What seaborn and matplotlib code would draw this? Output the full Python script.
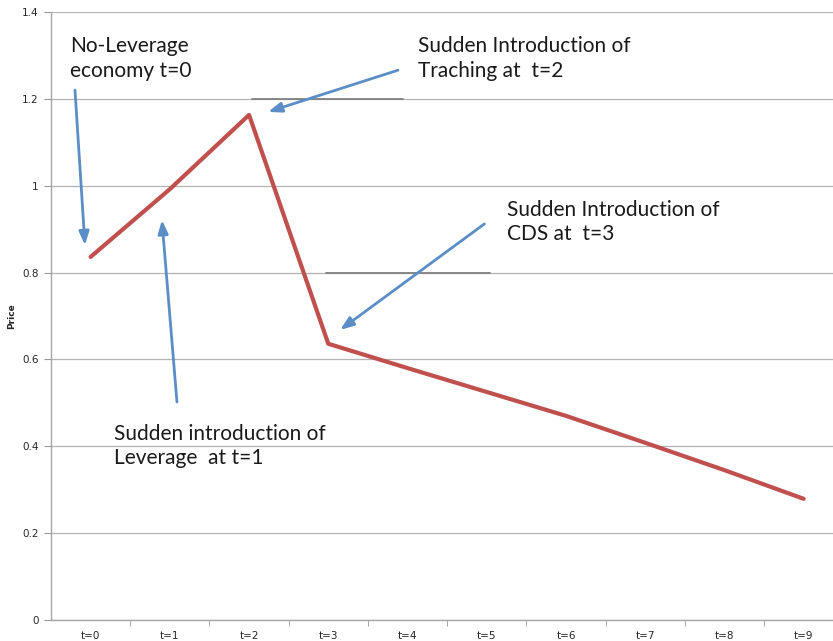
import matplotlib
matplotlib.use("Agg")
import matplotlib.pyplot as plt
import seaborn as sns
import pandas as pd
import numpy as np

periods = ["t=0", "t=1", "t=2", "t=3", "t=4", "t=5", "t=6", "t=7", "t=8", "t=9"]
prices = [0.836, 0.992, 1.163, 0.636, 0.58, 0.525, 0.47, 0.408, 0.345, 0.279]
y_ticks = [0, 0.2, 0.4, 0.6, 0.8, 1.0, 1.2, 1.4]
y_tick_labels = ["0", "0.2", "0.4", "0.6", "0.8", "1", "1.2", "1.4"]

# reference segments (data units): (x0, x1, y)
ref_lines = [(2.04, 3.94, 1.2), (2.97, 5.04, 0.8)]

# annotations: text, text position (x, y), arrow tail (x, y), arrow head (x, y)
notes = [
    ("No-Leverage\neconomy t=0", (-0.26, 1.345), (-0.197, 1.22), (-0.071, 0.863)),
    ("Sudden introduction of\nLeverage  at t=1", (0.295, 0.452), (1.09, 0.502), (0.90, 0.921)),
    ("Sudden Introduction of\nTraching at  t=2", (4.13, 1.345), (3.88, 1.266), (2.24, 1.17)),
    ("Sudden Introduction of\nCDS at  t=3", (5.26, 0.968), (4.97, 0.912), (3.15, 0.668)),
]

df = pd.DataFrame({"pos": np.arange(len(periods)), "price": prices})

sns.set_style("white")
plt.rcParams["font.family"] = ["Lato", "DejaVu Sans"]

fig = plt.figure(figsize=(8.33, 6.41), dpi=100)
ax = fig.add_axes([0.0612, 0.0328, 0.9388, 0.9485])

for x0, x1, y in ref_lines:
    ax.plot([x0, x1], [y, y], color="#808080", linewidth=1.3, zorder=2)

sns.lineplot(data=df, x="pos", y="price", color="#c0504d", linewidth=3.0, ax=ax, zorder=3)

ax.set_yticks(y_ticks)
ax.set_yticklabels(y_tick_labels, fontsize=7.5, family="DejaVu Sans")
ax.yaxis.grid(True, color="#b3b3b3", linewidth=0.9)
ax.set_axisbelow(True)

ax.set_xticks(np.arange(len(periods)))
ax.set_xticklabels(periods, fontsize=7.5, family="DejaVu Sans")
ax.set_xticks(np.arange(len(periods)) + 0.5, minor=True)
ax.tick_params(axis="x", which="major", length=0, pad=8)
ax.tick_params(axis="x", which="minor", length=4, color="#999999", direction="out", bottom=True)
ax.tick_params(axis="y", length=5, color="#999999", direction="out", left=True, pad=4)

ax.set_ylim(0, 1.4)
ax.set_xlim(-0.5, 9.37)

for side in ["top", "right"]:
    ax.spines[side].set_visible(False)
for side in ["left", "bottom"]:
    ax.spines[side].set_color("#a6a6a6")
    ax.spines[side].set_linewidth(1.0)

ax.set_xlabel("")
ax.set_ylabel("Price", fontsize=6.5, fontweight="bold", labelpad=4, family="DejaVu Sans")

for text, tpos, tail, head in notes:
    ax.text(tpos[0], tpos[1], text, fontsize=15, color="#1a1a1a", va="top", ha="left",
            linespacing=1.3, zorder=5)
    ax.annotate("", xy=head, xytext=tail,
                arrowprops=dict(arrowstyle="-|>,head_length=0.8,head_width=0.3",
                                color="#5b8ec7", linewidth=2.0, shrinkA=0, shrinkB=0),
                zorder=6)

fig.savefig("out.png", dpi=100)
